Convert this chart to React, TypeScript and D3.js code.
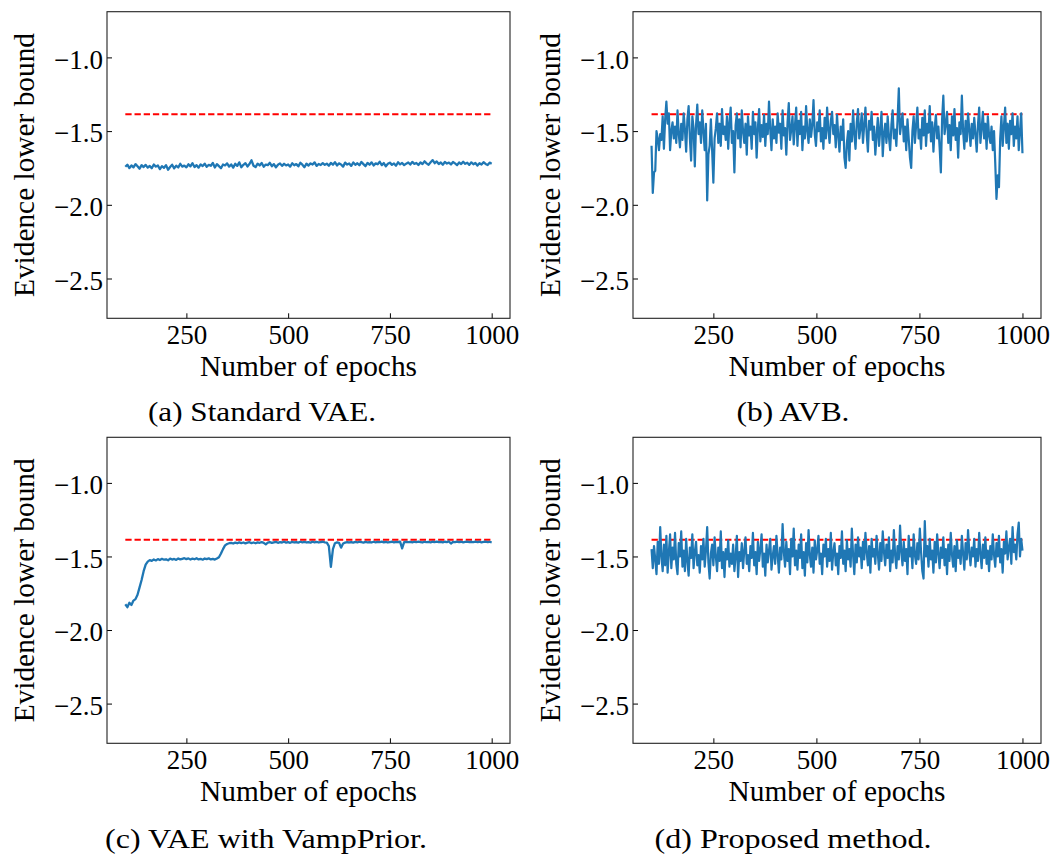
import React, { useEffect, useRef } from "react";
import * as d3 from "d3";

// ELBO curves (epochs 100..1000)
// standard VAE, one value every 5 epochs
const vaeElbo = [
  -1.742, -1.728, -1.751, -1.733, -1.746, -1.724, -1.739, -1.755, -1.731, -1.744,
  -1.729, -1.748, -1.736, -1.752, -1.727, -1.741, -1.733, -1.758, -1.738, -1.749,
  -1.731, -1.762, -1.744, -1.728, -1.753, -1.735, -1.747, -1.722, -1.741, -1.734,
  -1.746, -1.725, -1.739, -1.718, -1.744, -1.731, -1.748, -1.726, -1.737, -1.721,
  -1.742, -1.729, -1.735, -1.716, -1.747, -1.724, -1.738, -1.752, -1.727, -1.733,
  -1.719, -1.741, -1.726, -1.748, -1.722, -1.736, -1.712, -1.745, -1.729, -1.718,
  -1.740, -1.723, -1.698, -1.735, -1.744, -1.721, -1.733, -1.716, -1.742, -1.727,
  -1.731, -1.715, -1.738, -1.724, -1.746, -1.728, -1.719, -1.736, -1.722, -1.733,
  -1.726, -1.741, -1.718, -1.732, -1.724, -1.739, -1.715, -1.728, -1.745, -1.721,
  -1.734, -1.719, -1.727, -1.712, -1.736, -1.723, -1.730, -1.717, -1.729, -1.721,
  -1.735, -1.716, -1.728, -1.711, -1.733, -1.719, -1.726, -1.741, -1.714, -1.727,
  -1.720, -1.736, -1.713, -1.729, -1.718, -1.732, -1.709, -1.724, -1.738, -1.716,
  -1.728, -1.712, -1.733, -1.719, -1.725, -1.708, -1.731, -1.717, -1.739, -1.722,
  -1.714, -1.729, -1.719, -1.735, -1.711, -1.726, -1.716, -1.731, -1.721, -1.713,
  -1.727, -1.709, -1.722, -1.716, -1.730, -1.712, -1.724, -1.705, -1.719, -1.728,
  -1.711, -1.697, -1.718, -1.706, -1.723, -1.713, -1.728, -1.709, -1.720, -1.714,
  -1.726, -1.710, -1.719, -1.731, -1.713, -1.724, -1.708, -1.722, -1.715, -1.729,
  -1.712, -1.725, -1.716, -1.734, -1.718, -1.727, -1.711, -1.723, -1.730, -1.714,
  -1.721,
];

// AVB, one value every 3 epochs
const avbElbo = [
  -1.60, -1.92, -1.78, -1.77, -1.50, -1.55, -1.63, -1.52, -1.56, -1.40,
  -1.62, -1.42, -1.30, -1.45, -1.38, -1.63, -1.50, -1.44, -1.55, -1.47,
  -1.58, -1.36, -1.52, -1.61, -1.45, -1.56, -1.38, -1.49, -1.64, -1.42,
  -1.33, -1.55, -1.70, -1.40, -1.48, -1.74, -1.46, -1.32, -1.52, -1.44,
  -1.58, -1.36, -1.50, -1.63, -1.45, -1.97, -1.66, -1.60, -1.42, -1.63,
  -1.85, -1.55, -1.48, -1.38, -1.58, -1.45, -1.60, -1.35, -1.52, -1.47,
  -1.56, -1.40, -1.62, -1.44, -1.34, -1.58, -1.50, -1.78, -1.46, -1.38,
  -1.55, -1.42, -1.61, -1.36, -1.50, -1.58, -1.45, -1.66, -1.40, -1.53,
  -1.47, -1.62, -1.37, -1.52, -1.44, -1.68, -1.48, -1.35, -1.57, -1.46,
  -1.54, -1.39, -1.60, -1.45, -1.52, -1.30, -1.49, -1.63, -1.42, -1.55,
  -1.47, -1.58, -1.38, -1.51, -1.45, -1.62, -1.36, -1.53, -1.48, -1.66,
  -1.44, -1.31, -1.56, -1.49, -1.40, -1.59, -1.46, -1.34, -1.60, -1.43,
  -1.52, -1.37, -1.63, -1.47, -1.55, -1.33, -1.50, -1.58, -1.42, -1.54,
  -1.46, -1.29, -1.52, -1.60, -1.44, -1.50, -1.36, -1.57, -1.48, -1.62,
  -1.41, -1.55, -1.34, -1.49, -1.58, -1.43, -1.37, -1.52, -1.46, -1.61,
  -1.39, -1.53, -1.64, -1.47, -1.56, -1.42, -1.68, -1.75, -1.58, -1.50,
  -1.70, -1.45, -1.57, -1.36, -1.52, -1.62, -1.44, -1.35, -1.55, -1.48,
  -1.38, -1.58, -1.46, -1.34, -1.52, -1.64, -1.43, -1.49, -1.37, -1.56,
  -1.47, -1.66, -1.53, -1.41, -1.60, -1.49, -1.37, -1.67, -1.52, -1.45,
  -1.58, -1.40, -1.54, -1.63, -1.46, -1.36, -1.55, -1.49, -1.60, -1.42,
  -1.21, -1.52, -1.45, -1.38, -1.57, -1.47, -1.63, -1.42, -1.55, -1.68,
  -1.75, -1.50, -1.40, -1.58, -1.46, -1.34, -1.55, -1.49, -1.62, -1.41,
  -1.53, -1.36, -1.60, -1.45, -1.51, -1.33, -1.57, -1.44, -1.64, -1.48,
  -1.39, -1.55, -1.47, -1.61, -1.78, -1.42, -1.26, -1.52, -1.45, -1.37,
  -1.58, -1.46, -1.63, -1.40, -1.53, -1.35, -1.56, -1.48, -1.68, -1.44,
  -1.52, -1.26, -1.50, -1.62, -1.43, -1.57, -1.38, -1.49, -1.60, -1.45,
  -1.55, -1.41, -1.52, -1.64, -1.46, -1.34, -1.58, -1.48, -1.37, -1.55,
  -1.45, -1.62, -1.40, -1.53, -1.58, -1.47, -1.63, -1.50, -1.72, -1.96,
  -1.80, -1.88, -1.55, -1.40, -1.60, -1.47, -1.34, -1.58, -1.45, -1.62,
  -1.43, -1.52, -1.38, -1.60, -1.47, -1.55, -1.40, -1.63, -1.50, -1.38,
  -1.65,
];

// VAE with VampPrior, one value every 5 epochs
const vampElbo = [
  -1.825, -1.845, -1.815, -1.830, -1.800, -1.790, -1.760, -1.710, -1.660, -1.600,
  -1.555, -1.535, -1.525, -1.530, -1.520, -1.527, -1.518, -1.524, -1.516, -1.522,
  -1.519, -1.526, -1.515, -1.521, -1.517, -1.523, -1.514, -1.520, -1.516, -1.512,
  -1.518, -1.513, -1.521, -1.515, -1.519, -1.512, -1.520, -1.516, -1.522, -1.514,
  -1.518, -1.513, -1.520, -1.516, -1.521, -1.514, -1.505, -1.480, -1.450, -1.425,
  -1.415, -1.410, -1.408, -1.412, -1.406, -1.410, -1.404, -1.409, -1.405, -1.411,
  -1.406, -1.403, -1.409, -1.405, -1.410, -1.404, -1.407, -1.402, -1.408, -1.418,
  -1.406, -1.403, -1.408, -1.404, -1.401, -1.407, -1.403, -1.405, -1.400, -1.406,
  -1.403, -1.407, -1.401, -1.405, -1.402, -1.406, -1.400, -1.404, -1.401, -1.405,
  -1.402, -1.406, -1.400, -1.404, -1.401, -1.405, -1.402, -1.400, -1.404, -1.406,
  -1.430, -1.570, -1.450, -1.410, -1.404, -1.407, -1.440, -1.412, -1.406, -1.403,
  -1.405, -1.402, -1.406, -1.401, -1.404, -1.400, -1.403, -1.406, -1.401, -1.404,
  -1.402, -1.405, -1.400, -1.404, -1.401, -1.403, -1.399, -1.404, -1.401, -1.405,
  -1.402, -1.400, -1.404, -1.401, -1.403, -1.399, -1.445, -1.402, -1.400, -1.403,
  -1.401, -1.404, -1.400, -1.403, -1.399, -1.402, -1.405, -1.400, -1.403, -1.401,
  -1.404, -1.400, -1.402, -1.399, -1.403, -1.401, -1.404, -1.400, -1.402, -1.398,
  -1.412, -1.401, -1.403, -1.399, -1.402, -1.400, -1.404, -1.401, -1.399, -1.402,
  -1.400, -1.403, -1.399, -1.402, -1.400, -1.404, -1.401, -1.399, -1.403, -1.400,
  -1.405,
];

// proposed method, one value every 3 epochs
const proposedElbo = [
  -1.45, -1.58, -1.43, -1.52, -1.62, -1.40, -1.55, -1.30, -1.50, -1.60,
  -1.42, -1.56, -1.36, -1.61, -1.47, -1.35, -1.58, -1.44, -1.52, -1.34,
  -1.55, -1.62, -1.41, -1.50, -1.33, -1.57, -1.46, -1.60, -1.38, -1.53,
  -1.63, -1.44, -1.51, -1.35, -1.58, -1.47, -1.40, -1.56, -1.49, -1.61,
  -1.43, -1.52, -1.38, -1.57, -1.46, -1.30, -1.54, -1.65, -1.48, -1.42,
  -1.56, -1.37, -1.50, -1.60, -1.44, -1.53, -1.33, -1.58, -1.47, -1.64,
  -1.45, -1.52, -1.39, -1.57, -1.48, -1.55, -1.42, -1.60, -1.50, -1.36,
  -1.64, -1.47, -1.53, -1.41, -1.58, -1.46, -1.37, -1.55, -1.49, -1.60,
  -1.43, -1.51, -1.34, -1.56, -1.47, -1.62, -1.40, -1.53, -1.45, -1.35,
  -1.57, -1.48, -1.63, -1.42, -1.54, -1.46, -1.38, -1.59, -1.50, -1.43,
  -1.55, -1.36, -1.49, -1.61, -1.44, -1.52, -1.28, -1.47, -1.57, -1.40,
  -1.53, -1.45, -1.62, -1.38, -1.50, -1.31, -1.56, -1.46, -1.59, -1.42,
  -1.51, -1.35, -1.58, -1.47, -1.63, -1.41, -1.54, -1.32, -1.49, -1.57,
  -1.44, -1.61, -1.39, -1.52, -1.46, -1.36, -1.55, -1.48, -1.62, -1.42,
  -1.50, -1.38, -1.57, -1.45, -1.53, -1.34, -1.59, -1.47, -1.41, -1.56,
  -1.48, -1.62, -1.43, -1.51, -1.33, -1.55, -1.46, -1.60, -1.39, -1.52,
  -1.45, -1.57, -1.31, -1.49, -1.62, -1.42, -1.54, -1.37, -1.50, -1.44,
  -1.58, -1.40, -1.52, -1.34, -1.47, -1.56, -1.43, -1.61, -1.38, -1.50,
  -1.45, -1.55, -1.36, -1.48, -1.59, -1.41, -1.53, -1.33, -1.47, -1.56,
  -1.42, -1.51, -1.37, -1.60, -1.46, -1.54, -1.32, -1.49, -1.58, -1.43,
  -1.52, -1.29, -1.47, -1.56, -1.40, -1.53, -1.45, -1.62, -1.36, -1.50,
  -1.44, -1.58, -1.35, -1.49, -1.55, -1.41, -1.52, -1.31, -1.47, -1.60,
  -1.65, -1.26, -1.50, -1.43, -1.57, -1.38, -1.52, -1.46, -1.61, -1.40,
  -1.54, -1.35, -1.48, -1.58, -1.44, -1.51, -1.37, -1.56, -1.45, -1.62,
  -1.42, -1.53, -1.34, -1.49, -1.57, -1.43, -1.60, -1.39, -1.51, -1.46,
  -1.55, -1.36, -1.48, -1.59, -1.41, -1.52, -1.32, -1.47, -1.56, -1.44,
  -1.50, -1.38, -1.57, -1.45, -1.53, -1.34, -1.48, -1.58, -1.42, -1.51,
  -1.37, -1.55, -1.46, -1.60, -1.43, -1.52, -1.35, -1.49, -1.57, -1.41,
  -1.50, -1.36, -1.54, -1.45, -1.61, -1.40, -1.48, -1.33, -1.52, -1.44,
  -1.38, -1.55, -1.30, -1.47, -1.42, -1.52, -1.35, -1.27, -1.50, -1.38,
  -1.46,
];

const trueBound = -1.386; // red dashed reference (-log 4)
const xTicks = [250, 500, 750, 1000];
const yTicks = [-1.0, -1.5, -2.0, -2.5];
const captions = ["(a) Standard VAE.", "(b) AVB.", "(c) VAE with VampPrior.", "(d) Proposed method."];

const W = 1053;
const H = 854;
const FONT = "Liberation Serif, DejaVu Serif, Times New Roman, serif";

const panels = [
  { values: vaeElbo, step: 5, left: 107, right: 510, top: 11.7, bottom: 318.3, capX: 262, capY: 421, capLen: 228 },
  { values: avbElbo, step: 3, left: 633, right: 1041, top: 11.7, bottom: 318.3, capX: 793, capY: 421, capLen: 113 },
  { values: vampElbo, step: 5, left: 107, right: 510, top: 437.3, bottom: 743.3, capX: 266, capY: 848, capLen: 322 },
  { values: proposedElbo, step: 3, left: 633, right: 1041, top: 437.3, bottom: 743.3, capX: 793, capY: 848, capLen: 277 },
];

const App = () => {
  const svgRef = useRef<SVGSVGElement>(null);

  useEffect(() => {
    const svg = d3.select(svgRef.current);
    svg.selectAll("*").remove();

    panels.forEach((p, k) => {
      const x = d3.scaleLinear().domain([55, 1045]).range([p.left, p.right]);
      const y = d3.scaleLinear().domain([-2.77, -0.69]).range([p.bottom, p.top]);
      const g = svg.append("g");

      // reference bound
      g.append("line")
        .attr("x1", x(100))
        .attr("x2", x(1000))
        .attr("y1", y(trueBound))
        .attr("y2", y(trueBound))
        .attr("stroke", "#ff0000")
        .attr("stroke-width", 2)
        .attr("stroke-dasharray", "6.3,2.9");

      const line = d3
        .line<number>()
        .x((d, i) => x(100 + i * p.step))
        .y((d) => y(d));

      g.append("path")
        .datum(p.values)
        .attr("d", line)
        .attr("fill", "none")
        .attr("stroke", "#1f77b4")
        .attr("stroke-width", p.step === 3 ? 2.2 : 2.3)
        .attr("stroke-linejoin", "round");

      // axes, ticks pointing inward
      const fmt = (d: number) => d3.format(".1f")(d).replace("-", "\u2212");
      const xa = g
        .append("g")
        .attr("transform", `translate(0,${p.bottom})`)
        .call(d3.axisBottom(x).tickValues(xTicks).tickSize(-5).tickPadding(7).tickFormat(d3.format("d")));
      const ya = g
        .append("g")
        .attr("transform", `translate(${p.left},0)`)
        .call(d3.axisLeft(y).tickValues(yTicks).tickSize(-5).tickPadding(4).tickFormat(fmt));
      [xa, ya].forEach((a) => {
        a.attr("font-family", null).style("font-family", FONT);
        a.select(".domain").remove();
        a.selectAll("line").attr("stroke", "#000").attr("stroke-width", 1);
        a.selectAll("text").style("font-family", FONT).style("font-size", "27px").attr("fill", "#000");
      });
      ya.selectAll("text").attr("dy", "0.4em");

      g.append("rect")
        .attr("x", p.left)
        .attr("y", p.top)
        .attr("width", p.right - p.left)
        .attr("height", p.bottom - p.top)
        .attr("fill", "none")
        .attr("stroke", "#222")
        .attr("stroke-width", 1.1);

      g.append("text")
        .attr("x", (p.left + p.right) / 2)
        .attr("y", p.bottom + 58)
        .attr("text-anchor", "middle")
        .style("font-family", FONT)
        .style("font-size", "29px")
        .attr("textLength", 217)
        .attr("lengthAdjust", "spacingAndGlyphs")
        .text("Number of epochs");

      g.append("text")
        .attr("transform", `translate(${p.left - 73},${(p.top + p.bottom) / 2}) rotate(-90)`)
        .attr("text-anchor", "middle")
        .style("font-family", FONT)
        .style("font-size", "29px")
        .attr("textLength", 264)
        .attr("lengthAdjust", "spacingAndGlyphs")
        .text("Evidence lower bound");

      g.append("text")
        .attr("x", p.capX)
        .attr("y", p.capY)
        .attr("text-anchor", "middle")
        .style("font-family", FONT)
        .style("font-size", "27px")
        .attr("textLength", p.capLen)
        .attr("lengthAdjust", "spacingAndGlyphs")
        .text(captions[k]);
    });
  }, []);

  return (
    <svg
      ref={svgRef}
      width={W}
      height={H}
      style={{ position: "absolute", left: 0, top: 0, background: "#fff", fontFamily: FONT }}
    ></svg>
  );
};

export default App;
